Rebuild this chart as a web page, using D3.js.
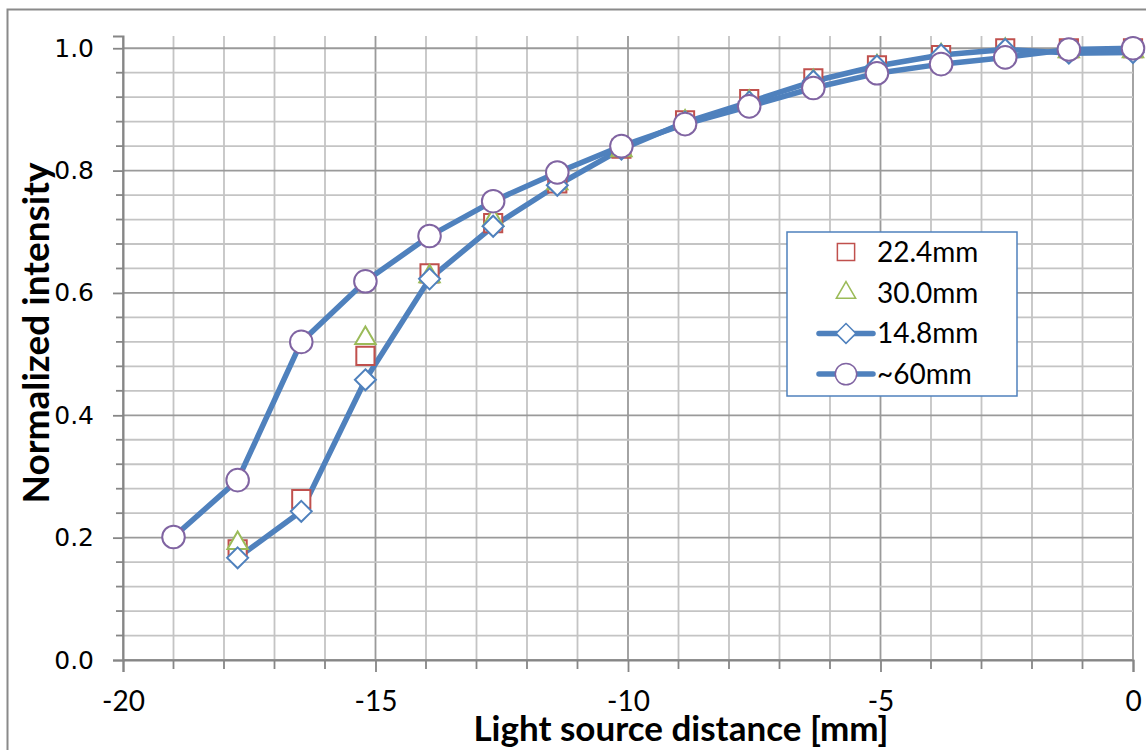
<!DOCTYPE html>
<html>
<head>
<meta charset="utf-8">
<script src="https://cdn.jsdelivr.net/npm/d3@7"></script>
<style>
  html, body { margin: 0; padding: 0; background: #fff; }
  svg { display: block; }
</style>
</head>
<body>
<div id="chart"></div>
<script>
// light source position [mm]
const distance = [-19, -17.73, -16.47, -15.2, -13.93, -12.67, -11.4, -10.13,
  -8.87, -7.6, -6.33, -5.07, -3.8, -2.53, -1.27, 0];

// normalized intensity per aperture (null = not measured)
const i224 = [null, 0.181, 0.263, 0.497, 0.632, 0.714, 0.779, 0.836,
  0.882, 0.917, 0.951, 0.972, 0.989, 1.0, 1.0, 1.0];
const i300 = [null, 0.191, null, 0.526, 0.627, 0.719, 0.779, 0.833,
  0.880, 0.912, 0.946, 0.970, 0.988, 0.997, 0.995, 0.995];
const i148 = [null, 0.167, 0.243, 0.458, 0.623, 0.709, 0.776, 0.835,
  0.879, 0.912, 0.946, 0.971, 0.989, 0.998, 0.992, 0.993];
const i60 = [0.201, 0.294, 0.520, 0.619, 0.693, 0.750, 0.797, 0.840,
  0.876, 0.905, 0.935, 0.959, 0.974, 0.985, 0.998, 1.0];

const xTicks = [-20, -15, -10, -5, 0];
const yTicks = [0, 0.2, 0.4, 0.6, 0.8, 1.0];

// square diamond (rotated square) instead of d3's tall diamond
const diamond = {
  draw(ctx, size) {
    const r = Math.sqrt(size / 2);
    ctx.moveTo(0, -r); ctx.lineTo(r, 0); ctx.lineTo(0, r); ctx.lineTo(-r, 0); ctx.closePath();
  }
};

const series = [
  {name: '22.4mm', values: i224, symbol: d3.symbolSquare, size: 330, color: '#c0504d', line: false},
  {name: '30.0mm', values: i300, symbol: d3.symbolTriangle, size: 180, color: '#9bbb59', line: false},
  {name: '14.8mm', values: i148, symbol: diamond, size: 220, color: '#4f81bd', line: true},
  {name: '~60mm', values: i60, symbol: d3.symbolCircle, size: 400, color: '#8064a2', line: true}
];

const width = 1146, height = 750;
const margin = {top: 36, right: 13, bottom: 90, left: 123};

const svg = d3.select('#chart').append('svg')
  .attr('width', width)
  .attr('height', height);

// outer chart frame
svg.append('rect')
  .attr('x', 7.5).attr('y', 9.5)
  .attr('width', 1160).attr('height', 800)
  .attr('fill', '#fff')
  .attr('stroke', '#8a8a8a')
  .attr('stroke-width', 2);

const x = d3.scaleLinear().domain([-20, 0]).range([margin.left, width - margin.right]);
const y = d3.scaleLinear().domain([0, 1.02]).range([height - margin.bottom, margin.top]);

const grid = svg.append('g');
const minorX = d3.range(-20, 1, 1);
const minorY = d3.range(0, 26).map(i => +(i * 0.04).toFixed(2));

grid.selectAll('line.vx')
  .data(minorX)
  .enter().append('line')
  .attr('x1', d => x(d)).attr('x2', d => x(d))
  .attr('y1', y(0)).attr('y2', y(1.02))
  .attr('stroke', d => d % 5 === 0 ? '#9a9a9a' : '#c4c4c4')
  .attr('stroke-width', 1.8);

grid.selectAll('line.hy')
  .data(minorY)
  .enter().append('line')
  .attr('x1', x(-20)).attr('x2', x(0))
  .attr('y1', d => y(d)).attr('y2', d => y(d))
  .attr('stroke', d => Math.round(d * 100) % 20 === 0 ? '#9a9a9a' : '#c4c4c4')
  .attr('stroke-width', 1.8);

// axes
const yAxis = svg.append('g')
  .attr('transform', `translate(${x(-20)},0)`)
  .call(d3.axisLeft(y).tickValues(yTicks).tickFormat(d3.format('.1f')).tickSize(10).tickPadding(19));
yAxis.select('.domain').attr('stroke', '#868686').attr('stroke-width', 2);
yAxis.selectAll('.tick line').attr('stroke', '#868686').attr('stroke-width', 1.8);
yAxis.selectAll('.tick text')
  .style('font-family', '"DejaVu Sans", Verdana, sans-serif')
  .style('font-size', '25px')
  .attr('fill', '#000');

yAxis.selectAll('line.minor')
  .data(minorY.filter(d => Math.round(d * 100) % 20 !== 0))
  .enter().append('line')
  .attr('x1', -7).attr('x2', 0)
  .attr('y1', d => y(d)).attr('y2', d => y(d))
  .attr('stroke', '#868686').attr('stroke-width', 1.8);

const xAxis = svg.append('g')
  .attr('transform', `translate(0,${y(0)})`)
  .call(d3.axisBottom(x).tickValues(xTicks).tickFormat(d => String(d)).tickSize(12).tickPadding(0));
xAxis.select('.domain').attr('stroke', '#868686').attr('stroke-width', 2);
xAxis.selectAll('.tick line').attr('stroke', '#868686').attr('stroke-width', 1.8);
xAxis.selectAll('.tick text')
  .attr('y', 51).attr('dy', null)
  .style('font-family', 'Lato, "Open Sans", sans-serif')
  .style('font-size', '28px')
  .attr('fill', '#000');

xAxis.selectAll('line.minor')
  .data(minorX.filter(d => d % 5 !== 0))
  .enter().append('line')
  .attr('x1', d => x(d)).attr('x2', d => x(d))
  .attr('y1', 0).attr('y2', 9)
  .attr('stroke', '#868686').attr('stroke-width', 1.8);

// axis titles
svg.append('text')
  .attr('x', 681).attr('y', 741)
  .attr('text-anchor', 'middle')
  .style('font-family', 'Lato, sans-serif')
  .style('font-weight', 'bold')
  .style('font-size', '35px')
  .text('Light source distance [mm]');

svg.append('text')
  .attr('transform', 'translate(49,333) rotate(-90)')
  .attr('text-anchor', 'middle')
  .style('font-family', 'Lato, sans-serif')
  .style('font-weight', 'bold')
  .style('font-size', '37px')
  .text('Normalized intensity');

// data
const plot = svg.append('g');

series.filter(s => s.line).forEach(s => {
  const pts = distance.map((d, i) => [d, s.values[i]]).filter(p => p[1] !== null);
  plot.append('path')
    .datum(pts)
    .attr('fill', 'none')
    .attr('stroke', '#4f81bd')
    .attr('stroke-width', 5.5)
    .attr('stroke-linejoin', 'round')
    .attr('d', d3.line().x(p => x(p[0])).y(p => y(p[1])));
});

series.forEach(s => {
  const pts = distance.map((d, i) => [d, s.values[i]]).filter(p => p[1] !== null);
  plot.append('g').selectAll('path')
    .data(pts)
    .enter().append('path')
    .attr('transform', p => `translate(${x(p[0])},${y(p[1])})`)
    .attr('d', d3.symbol().type(s.symbol).size(s.size))
    .attr('fill', '#fff')
    .attr('stroke', s.color)
    .attr('stroke-width', 2);
});

// legend
const legend = svg.append('g').attr('transform', 'translate(787,232)');
legend.append('rect')
  .attr('width', 230).attr('height', 164)
  .attr('fill', '#fff')
  .attr('stroke', '#4f81bd')
  .attr('stroke-width', 1.5);

const rows = legend.selectAll('g.row')
  .data(series)
  .enter().append('g')
  .attr('transform', (d, i) => `translate(0,${20 + i * 40.7})`);

rows.filter(d => d.line).append('line')
  .attr('x1', 32).attr('x2', 86)
  .attr('stroke', '#4f81bd')
  .attr('stroke-width', 5.5)
  .attr('stroke-linecap', 'round');

rows.append('path')
  .attr('transform', 'translate(59,0)')
  .attr('d', d => d3.symbol().type(d.symbol).size(d.size * 0.9)())
  .attr('fill', '#fff')
  .attr('stroke', d => d.color)
  .attr('stroke-width', 1.5);

rows.append('text')
  .attr('x', 90).attr('dy', '0.35em')
  .style('font-family', 'Lato, sans-serif')
  .style('font-size', '28px')
  .text(d => d.name);
</script>
</body>
</html>
